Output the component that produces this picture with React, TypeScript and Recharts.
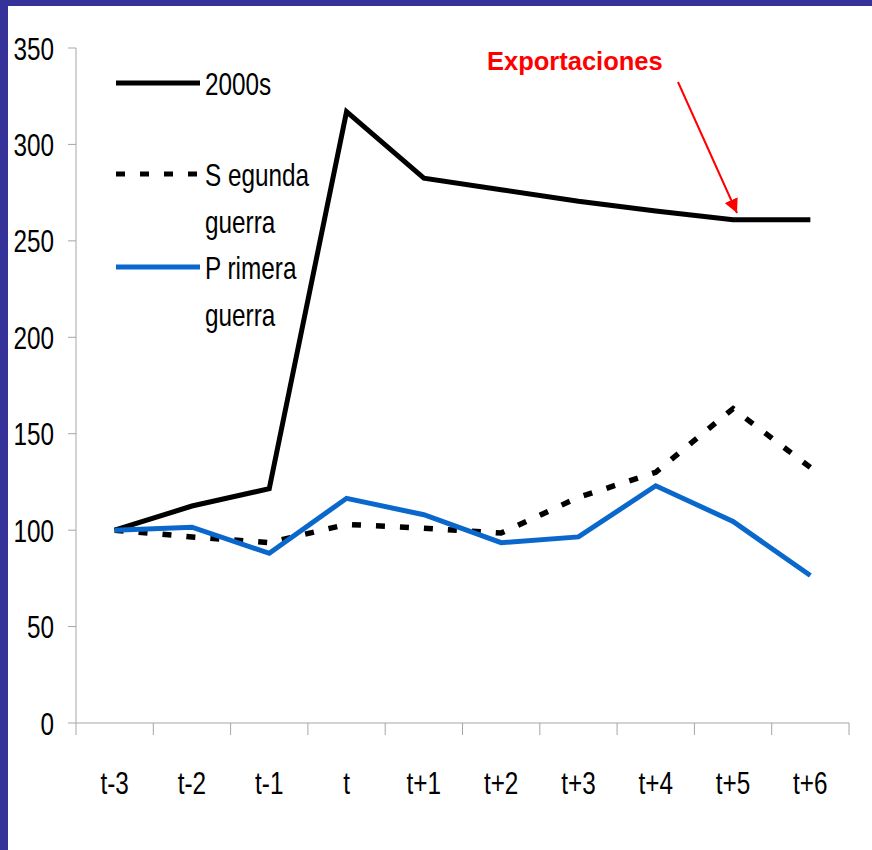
import { LineChart, Line, XAxis, YAxis, Legend } from 'recharts'

const FRAME = '#353399'
const AXIS = '#a6a6a6'
const BLUE = '#0a68cc'
const RED = '#ff0000'
const FONT = "'Liberation Sans', Arial, sans-serif"
const SQUEEZE = 0.76

const periods = ['t-3', 't-2', 't-1', 't', 't+1', 't+2', 't+3', 't+4', 't+5', 't+6']
const dosMil = [100, 112.5, 121.5, 317, 282.5, 276.5, 270.5, 265.5, 261, 261]
const segunda = [100, 96.5, 93.5, 103, 101, 98.5, 117, 130, 163, 132.5]
const primera = [100, 101.5, 88, 116.5, 108, 93.5, 96.5, 123, 104.5, 76.5]
const yTicks = [0, 50, 100, 150, 200, 250, 300, 350]
const boundaryTicks = periods.map((_, i) => i).concat(periods.length)
const legendOrder = ['dosMil', 'segunda', 'primera']

const data = periods.map((p, i) => ({
  periodo: p,
  idx: i + 0.5,
  dosMil: dosMil[i],
  segunda: segunda[i],
  primera: primera[i],
}))

// narrow text: Liberation Sans squeezed horizontally, like the Calibri-ish original
function NarrowText({ x, y, anchor, dy, children }: { x: number; y: number; anchor: 'start' | 'middle' | 'end'; dy: string; children: string }) {
  return (
    <g transform={`translate(${x},${y})`}>
      <text transform={`scale(${SQUEEZE},1)`} textAnchor={anchor} dy={dy} fontFamily={FONT} fontSize={32} fill="#000">
        {children}
      </text>
    </g>
  )
}

function YTick(props: any) {
  return <NarrowText x={props.x} y={props.y} anchor="end" dy="0.36em">{String(props.payload.value)}</NarrowText>
}

function XTick(props: any) {
  return <NarrowText x={props.x} y={props.y} anchor="middle" dy="0.71em">{String(props.payload.value)}</NarrowText>
}

function NoLabel() {
  return <g />
}

interface LegendItem { value?: string; color?: string; dataKey?: string; payload?: { strokeDasharray?: string } }

function LegendBox({ payload }: { payload?: LegendItem[] }) {
  const rows = [20, 111, 204]
  const items = [...(payload ?? [])].sort(
    (a, b) => legendOrder.indexOf(String(a.dataKey)) - legendOrder.indexOf(String(b.dataKey)),
  )
  return (
    <svg width={240} height={270} style={{ overflow: 'visible' }}>
      {items.map((item, i) => {
        const lines = String(item.value).split('\n')
        return (
          <g key={i}>
            <line
              x1={0} x2={84} y1={rows[i]} y2={rows[i]}
              stroke={item.color} strokeWidth={5}
              strokeDasharray={item.payload?.strokeDasharray}
            />
            {lines.map((t, j) => (
              <NarrowText key={j} x={89} y={rows[i] + j * 47} anchor="start" dy="0.36em">{t}</NarrowText>
            ))}
          </g>
        )
      })}
    </svg>
  )
}

export default function App() {
  return (
    <div style={{ position: 'fixed', left: 0, top: 0, width: 872, height: 850, background: FRAME, overflow: 'hidden' }}>
      <div style={{ position: 'absolute', left: 8, top: 6, width: 864, height: 844, background: '#fff' }}>
        <LineChart width={864} height={844} data={data} margin={{ top: 42, right: 23, left: 0, bottom: 7 }}>
          {/* boundary ticks between periods, drawn by a label-less numeric axis */}
          <XAxis
            xAxisId="b" dataKey="idx" type="number" domain={[0, periods.length]} ticks={boundaryTicks}
            height={1} tick={<NoLabel />} tickSize={12}
            stroke={AXIS} axisLine={{ stroke: AXIS }} tickLine={{ stroke: AXIS }}
          />
          <XAxis
            xAxisId="cat" dataKey="periodo" scale="band" height={119}
            axisLine={false} tickLine={false} tickSize={12} tickMargin={35}
            tick={<XTick />}
          />
          <YAxis
            domain={[0, 350]} ticks={yTicks} width={68}
            tickSize={8} tickMargin={14}
            stroke={AXIS} axisLine={{ stroke: AXIS }} tickLine={{ stroke: AXIS }}
            tick={<YTick />}
          />
          <Legend
            layout="vertical" align="center" verticalAlign="middle"
            wrapperStyle={{ left: 108, top: 57, width: 240, height: 270 }}
            content={<LegendBox />}
          />
          <Line xAxisId="cat" dataKey="dosMil" name="2000s" stroke="#000" strokeWidth={5} dot={false} isAnimationActive={false} />
          <Line xAxisId="cat" dataKey="segunda" name={'S egunda\nguerra'} stroke="#000" strokeWidth={5.5} strokeDasharray="9 15" dot={false} isAnimationActive={false} />
          <Line xAxisId="cat" dataKey="primera" name={'P rimera\nguerra'} stroke={BLUE} strokeWidth={5} dot={false} isAnimationActive={false} />
        </LineChart>
        <svg width={864} height={844} style={{ position: 'absolute', left: 0, top: 0, pointerEvents: 'none' }}>
          <defs>
            <marker id="punta" viewBox="0 0 10 10" refX={10} refY={5} markerWidth={7} markerHeight={7} orient="auto">
              <path d="M0,0 L10,5 L0,10 z" fill={RED} />
            </marker>
          </defs>
          <text x={479} y={64} fontFamily={FONT} fontWeight="bold" fontSize={25.5} fill={RED}>
            Exportaciones
          </text>
          <line x1={670} y1={76} x2={729} y2={207} stroke={RED} strokeWidth={2} markerEnd="url(#punta)" />
        </svg>
      </div>
    </div>
  )
}
